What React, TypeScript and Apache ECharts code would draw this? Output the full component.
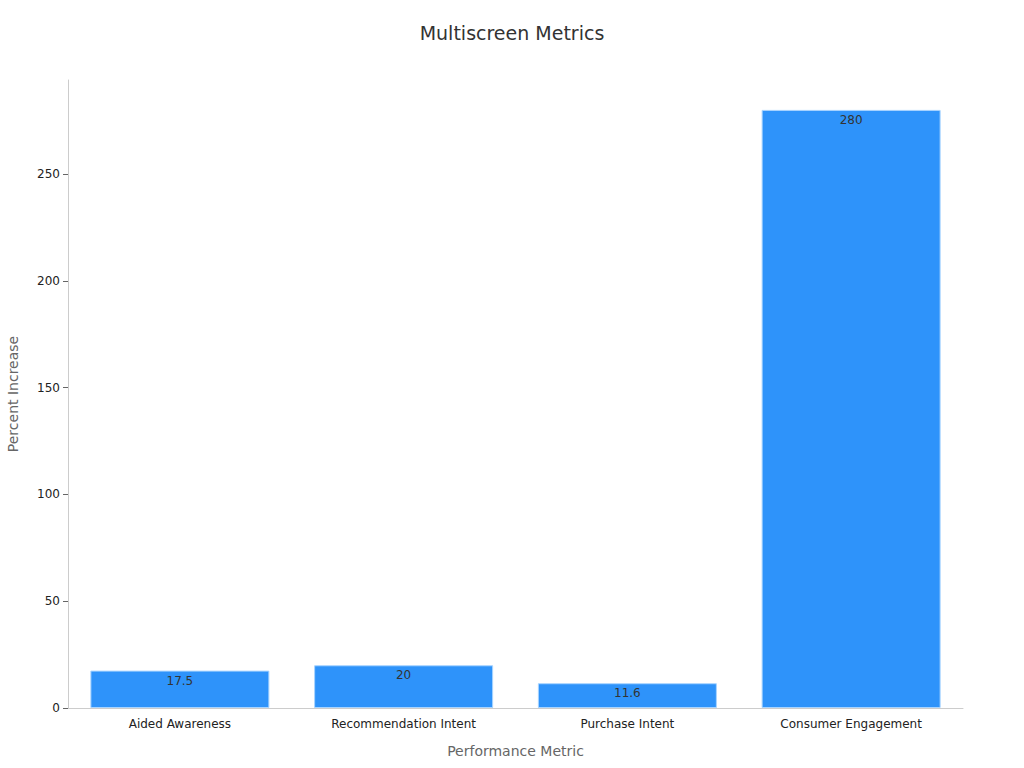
import React, { useEffect, useRef } from 'react'
import * as echarts from 'echarts'

const categories = ['Aided Awareness', 'Recommendation Intent', 'Purchase Intent', 'Consumer Engagement']
const values = [17.5, 20, 11.6, 280]
const yTicks = [0, 50, 100, 150, 200, 250]

const FONT = 'DejaVu Sans, sans-serif'

export default function App() {
  const ref = useRef<HTMLDivElement | null>(null)

  useEffect(() => {
    document.body.style.margin = '0'
    if (!ref.current) return
    const chart = echarts.init(ref.current, undefined, { renderer: 'svg' })

    const opt: echarts.EChartsOption = {
      animation: false,
      textStyle: { fontFamily: FONT },
      title: {
        text: 'Multiscreen Metrics',
        left: 'center',
        top: 18,
        textStyle: { fontFamily: FONT, fontSize: 19, fontWeight: 'normal', color: '#333' }
      },
      grid: { left: 68, right: 61, top: 80, bottom: 60, outerBoundsMode: 'none' } as any,
      xAxis: {
        type: 'category',
        data: categories,
        name: 'Performance Metric',
        nameLocation: 'middle',
        nameGap: 36,
        nameTextStyle: { fontFamily: FONT, fontSize: 14, color: '#666' },
        axisLine: { lineStyle: { color: '#ccc' } },
        axisTick: { alignWithLabel: true, lineStyle: { color: '#666' } },
        axisLabel: { fontFamily: FONT, fontSize: 12, color: '#222', margin: 10 }
      },
      yAxis: {
        type: 'value',
        min: 0,
        max: 294,
        name: 'Percent Increase',
        nameLocation: 'middle',
        nameGap: 48,
        nameTextStyle: { fontFamily: FONT, fontSize: 14, color: '#666' },
        axisLine: { show: true, lineStyle: { color: '#ccc' } },
        axisTick: { show: true, customValues: yTicks, lineStyle: { color: '#666' } },
        splitLine: { show: false },
        axisLabel: {
          fontFamily: FONT,
          fontSize: 12,
          color: '#222',
          customValues: yTicks
        }
      } as any,
      series: [{
        type: 'bar',
        data: values,
        barWidth: '80%',
        itemStyle: { color: '#2e93fa', borderColor: '#a8d4ff', borderWidth: 1 },
        label: {
          show: true,
          position: 'insideTop',
          distance: 4,
          fontFamily: FONT,
          fontSize: 12,
          color: '#333'
        }
      }]
    }

    chart.setOption(opt)
    return () => { chart.dispose() }
  }, [])

  return <div ref={ref} style={{ width: 1024, height: 768 }} />
}
